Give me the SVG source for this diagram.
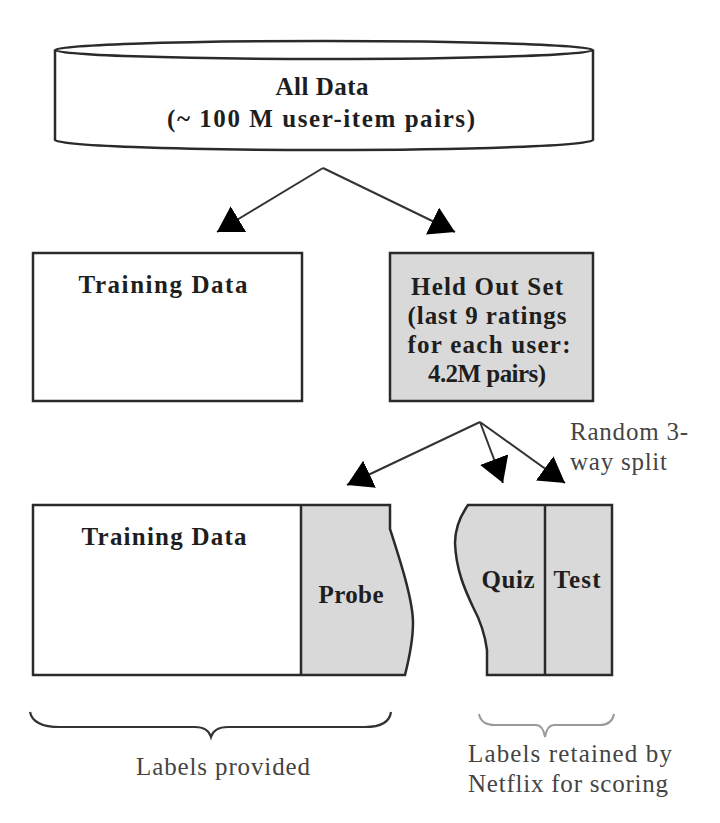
<svg xmlns="http://www.w3.org/2000/svg" width="720" height="823" viewBox="0 0 720 823">
<style>
  .b { font-family: "Liberation Serif", "Times New Roman", serif; font-weight: bold; font-size: 25px; fill: #1e1e1e; text-anchor: middle; }
  .r { font-family: "Liberation Serif", "Times New Roman", serif; font-size: 25px; fill: #444; }
  .box { stroke: #2a2a2a; stroke-width: 2.5; }
  .gray { fill: #d9d9d9; }
  .white { fill: #fff; }
  .conn { stroke: #333; stroke-width: 2; fill: none; marker-end: url(#ah); }
</style>
<defs>
  <marker id="ah" markerUnits="userSpaceOnUse" viewBox="0 0 25 30" markerWidth="25" markerHeight="30" refX="25" refY="15" orient="auto">
    <path d="M0,0 L25,15 L0,30 Z" fill="#000"/>
  </marker>
</defs>
<rect width="720" height="823" fill="#fff"/>

<g id="all-data">
  <path d="M55,50 L55,140 A269,10 0 0 0 593,140 L593,50" class="white box"/>
  <ellipse cx="324" cy="50" rx="269" ry="9" class="white box"/>
  <text x="322" y="95" class="b" textLength="93" lengthAdjust="spacing">All Data</text>
  <text x="321" y="127" class="b" textLength="308" lengthAdjust="spacing">(~ 100 M user-item pairs)</text>
</g>

<g id="training-data-1">
  <rect x="33" y="253" width="269" height="148" class="white box"/>
  <text x="163" y="293" class="b" textLength="169" lengthAdjust="spacing">Training Data</text>
</g>

<g id="held-out">
  <rect x="390" y="253" width="203" height="148" class="gray box"/>
  <text x="487" y="295" class="b" textLength="152" lengthAdjust="spacing">Held Out Set</text>
  <text x="487" y="324" class="b" textLength="159" lengthAdjust="spacing">(last 9 ratings</text>
  <text x="489" y="353" class="b" textLength="163" lengthAdjust="spacing">for each user:</text>
  <text x="487" y="382" class="b" textLength="118" lengthAdjust="spacing">4.2M pairs)</text>
</g>

<g id="connectors">
  <path class="conn" d="M323,168 L217,232"/>
  <path class="conn" d="M323,168 L455,232"/>
  <path class="conn" d="M480,422 L347,485"/>
  <path class="conn" d="M480,422 L503,483"/>
  <path class="conn" d="M480,422 L565,483"/>
</g>

<g id="split-label">
  <text x="570" y="440" class="r" textLength="118" lengthAdjust="spacing">Random 3-</text>
  <text x="570" y="470" class="r" textLength="97" lengthAdjust="spacing">way split</text>
</g>

<g id="training-probe">
  <rect x="33" y="505" width="268" height="170" class="white"/>
  <path d="M301,505 L390,505 L390,529 C400,560 413,600 413,623 C413,640 410,655 405,675 L301,675 Z" class="gray"/>
  <path d="M33,505 L390,505 L390,529 C400,560 413,600 413,623 C413,640 410,655 405,675 L33,675 Z" fill="none" class="box"/>
  <line x1="301" y1="505" x2="301" y2="675" class="box"/>
  <text x="164" y="545" class="b" textLength="165" lengthAdjust="spacing">Training Data</text>
  <text x="351" y="603" class="b" textLength="65" lengthAdjust="spacing">Probe</text>
</g>

<g id="quiz-test">
  <path d="M468,505 L612,505 L612,675 L487,675 L487,650 C485,635 480,620 473,607 C465,590 456,570 455,543 C455,528 461,515 468,505 Z" class="gray box"/>
  <line x1="545" y1="505" x2="545" y2="675" class="box"/>
  <text x="508" y="588" class="b" textLength="53" lengthAdjust="spacing">Quiz</text>
  <text x="577" y="588" class="b" textLength="47" lengthAdjust="spacing">Test</text>
</g>

<g id="labels-provided">
  <path d="M30,712 Q33,727 60,727 L195,727 Q208,727 211,737 Q214,727 228,727 L365,727 Q389,727 391,712" fill="none" stroke="#333" stroke-width="2.2"/>
  <text x="136" y="775" class="r" textLength="174" lengthAdjust="spacing">Labels provided</text>
</g>

<g id="labels-retained">
  <path d="M479,714 Q481,725 495,725 L536,725 Q543,725 545,737 Q547,725 554,725 L600,725 Q612,725 614,714" fill="none" stroke="#999" stroke-width="2"/>
  <text x="468" y="762" class="r" textLength="204" lengthAdjust="spacing">Labels retained by</text>
  <text x="468" y="792" class="r" textLength="200" lengthAdjust="spacing">Netflix for scoring</text>
</g>
</svg>
